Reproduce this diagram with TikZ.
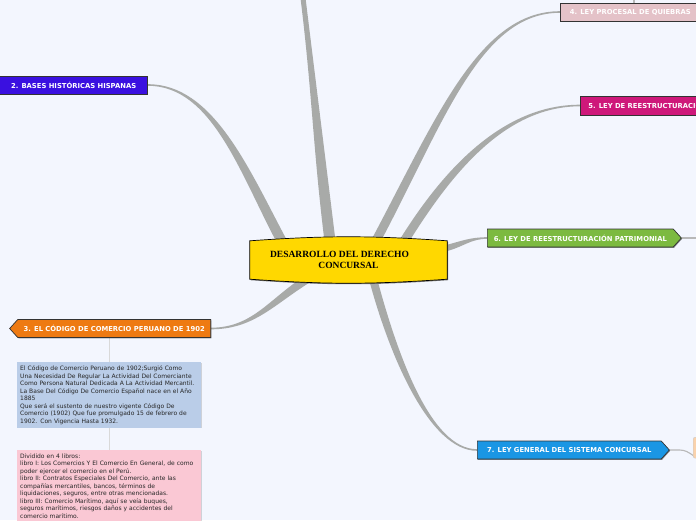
\documentclass[tikz,border=0pt]{standalone}
\usepackage{fontspec}
\setmainfont{Liberation Serif}
\newfontfamily\verdana{DejaVu Sans}
\usetikzlibrary{calc, positioning, backgrounds, shapes.symbols, shadows}

\definecolor{fondo}{RGB}{243,246,254}
\definecolor{ramagris}{RGB}{168,170,168}
\definecolor{amarillo}{RGB}{255,216,0}
\definecolor{azulvio}{RGB}{58,16,224}
\definecolor{naranja}{RGB}{238,122,18}
\definecolor{rosaclaro}{RGB}{228,194,200}
\definecolor{fucsia}{RGB}{206,24,122}
\definecolor{verde}{RGB}{124,186,64}
\definecolor{celeste}{RGB}{26,150,228}
\definecolor{notaazul}{RGB}{186,205,232}
\definecolor{notarosa}{RGB}{250,200,212}
\definecolor{durazno}{RGB}{250,210,172}

\tikzset{
  centro/.style={minimum width=197pt, minimum height=38pt, inner sep=0pt, align=center,
    font=\bfseries\fontsize{9.5}{11}\selectfont},
  tema/.style={draw=black!80, line width=0.7pt, text=white, minimum height=18pt,
    inner xsep=0pt, inner ysep=0pt, font=\verdana\bfseries\fontsize{6.8}{8}\selectfont,
    drop shadow={shadow xshift=0.8pt, shadow yshift=-0.8pt, opacity=0.45, fill=black}},
  hacia izq/.style={signal, signal to=west, signal pointer angle=96},
  hacia der/.style={signal, signal to=east, signal pointer angle=96},
  nota/.style={anchor=north west, text width=178pt, inner xsep=3pt, inner ysep=3.5pt,
    align=left, text=black!85, font=\verdana\fontsize{6}{7.5}\selectfont,
    drop shadow={shadow xshift=0.5pt, shadow yshift=-0.5pt, opacity=0.15, fill=black}},
  rama/.style={fill=ramagris},
  enlace/.style={draw=black!28, line width=1.1pt},
  guia/.style={draw=black!15, line width=0.9pt},
}

% tapered branch: from, out, looseness, to, in, looseness, half width, half width
\newcommand{\rama}[8]{%
  \fill[rama] ($(#1)+(#2+90:#7)$) to[out=#2,in=#5,out looseness=#3,in looseness=#6] ($(#4)+(#5-90:#8)$)
    -- ($(#4)+(#5+90:#8)$) to[out=#5,in=#2,out looseness=#6,in looseness=#3] ($(#1)+(#2-90:#7)$) -- cycle;}

\begin{document}
\begin{tikzpicture}[x=1pt, y=1pt]
  \useasboundingbox (0,0) rectangle (696,-520);

  % central topic
  \node[centro] (centro) at (348.5,-260) {DESARROLLO DEL DERECHO\hspace*{18pt}\\CONCURSAL};

  % main topics
  \node[tema, fill=azulvio, minimum width=148pt, anchor=east] (bases) at (148,-85)
    {2. BASES HISTÓRICAS HISPANAS};
  \node[tema, hacia izq, fill=naranja, minimum width=201pt, anchor=east] (codigo) at (211,-328.5)
    {3. EL CÓDIGO DE COMERCIO PERUANO DE 1902};
  \node[tema, fill=rosaclaro, minimum width=140pt, anchor=west] (quiebras) at (560,-12)
    {4. LEY PROCESAL DE QUIEBRAS};
  \node[tema, fill=fucsia, inner xsep=8pt, minimum height=19pt, anchor=west] (reestructuracion) at (580,-105.5)
    {5. LEY DE REESTRUCTURACIÓN};
  \node[tema, hacia der, fill=verde, minimum width=194pt, anchor=west] (patrimonial) at (487,-238)
    {6. LEY DE REESTRUCTURACIÓN PATRIMONIAL};
  \node[tema, hacia der, fill=celeste, minimum width=192pt, anchor=west] (sistema) at (477,-450)
    {7. LEY GENERAL DEL SISTEMA CONCURSAL};
  \node[draw=black!20, fill=durazno, rounded corners=2pt, minimum width=30pt, minimum height=21pt,
    anchor=north west] (siguiente) at (693,-437) {};

  % notes under topic 3
  \node[nota, fill=notaazul] (nota1) at (17,-362)
    {El Código de Comercio Peruano de 1902;Surgió Como\\
     Una Necesidad De Regular La Actividad Del Comerciante\\
     Como Persona Natural Dedicada A La Actividad Mercantil.\\
     La Base Del Código De Comercio Español nace en el Año\\
     1885\\
     Que será el sustento de nuestro vigente Código De\\
     Comercio (1902) Que fue promulgado 15 de febrero de\\
     1902. Con Vigencia Hasta 1932.};
  \node[nota, fill=notarosa] (nota2) at (17,-450)
    {Dividido en 4 libros:\\
     libro I: Los Comercios Y El Comercio En General, de como\\
     poder ejercer el comercio en el Perú.\\
     libro II: Contratos Especiales Del Comercio, ante las\\
     compañías mercantiles, bancos, términos de\\
     liquidaciones, seguros, entre otras mencionadas.\\
     libro III: Comercio Marítimo, aquí se veía buques,\\
     seguros marítimos, riesgos daños y accidentes del\\
     comercio marítimo.};

  % free ends leaving the page
  \coordinate (arriba) at (303,2);
  \coordinate (f4) at (634,6);
  \coordinate (f6) at (705,-238);
  \coordinate (f7) at (705,-460);

  \begin{scope}[on background layer]
    \fill[fondo] (0,0) rectangle (696,-520);
    % branches
    \rama{centro.134}{97}{1}{arriba}{-83}{1}{5.5}{2.5}
    \rama{centro.164}{118}{1}{bases.east}{0}{0.8}{5}{0.8}
    \rama{centro.205}{-148}{1}{codigo.east}{0}{1}{4}{0.8}
    \rama{centro.35}{62}{1.2}{quiebras.west}{180}{0.7}{4.5}{0.8}
    \rama{centro.19}{58}{0.9}{reestructuracion.west}{180}{0.9}{4.5}{0.8}
    \rama{centro.7}{15}{1}{patrimonial.west}{180}{1}{3}{0.8}
    \rama{centro.-38}{-75}{1}{sistema.west}{180}{0.6}{4}{0.8}
    % thin links
    \draw[enlace] (quiebras.north -| f4) -- (f4);
    \draw[enlace] (patrimonial.east) -- (f6);
    \draw[enlace] (sistema.east) -- ++(10,0) to[out=0,in=180] (f7);
    \draw[guia] (nota1.north) -- (nota1.north |- codigo.south);
    \draw[guia] (nota2.north) -- (nota1.south);
    % barrel of the central topic
    \fill[black!55] ([shift={(0.8,-1)}]centro.north west) to[bend left=4] ([shift={(0.8,-1)}]centro.north east)
      -- ([shift={(0.8,-1)}]centro.south east) to[bend left=4] ([shift={(0.8,-1)}]centro.south west) -- cycle;
    \draw[fill=amarillo, line width=0.7pt] (centro.north west) to[bend left=4] (centro.north east)
      -- (centro.south east) to[bend left=4] (centro.south west) -- cycle;
  \end{scope}
\end{tikzpicture}
\end{document}
